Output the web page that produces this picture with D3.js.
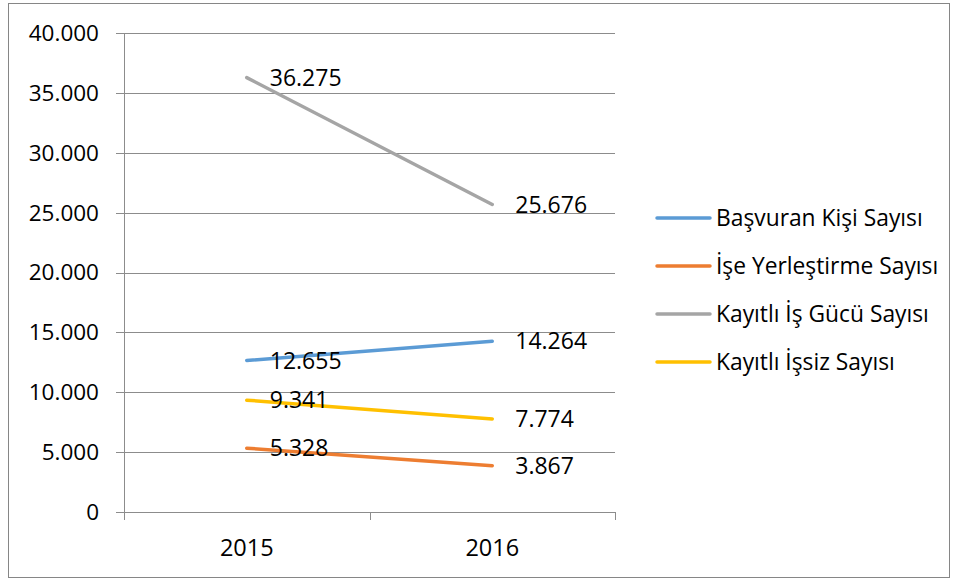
<!DOCTYPE html>
<html>
<head>
<meta charset="utf-8">
<script src="https://cdnjs.cloudflare.com/ajax/libs/d3/7.8.5/d3.min.js"></script>
<style>
  body { margin: 0; background: #fff; }
  svg text { font-family: "Open Sans", "Noto Sans", sans-serif; fill: #000; }
</style>
</head>
<body>
<div id="chart"></div>
<script>
// data
const years = ["2015", "2016"];
const seriesNames = ["Başvuran Kişi Sayısı", "İşe Yerleştirme Sayısı", "Kayıtlı İş Gücü Sayısı", "Kayıtlı İşsiz Sayısı"];
const basvuran = [12655, 14264];
const yerlestirme = [5328, 3867];
const isGucu = [36275, 25676];
const issiz = [9341, 7774];
const yTicks = [0, 5000, 10000, 15000, 20000, 25000, 30000, 35000, 40000];
const colors = ["#5B9BD5", "#ED7D31", "#A5A5A5", "#FFC000"];

const allSeries = [basvuran, yerlestirme, isGucu, issiz].map((v, i) => ({
  name: seriesNames[i], values: v, color: colors[i]
}));

const width = 957, height = 579;
const margin = {left: 124, right: 342, top: 33, bottom: 67};

var svg = d3.select("#chart").append("svg")
  .attr("width", width)
  .attr("height", height);

// outer border
svg.append("rect")
  .attr("x", 8.5).attr("y", 3.5)
  .attr("width", 941).attr("height", 574)
  .attr("fill", "none").attr("stroke", "#868686").attr("stroke-width", 1);

var x = d3.scaleBand()
  .domain(years)
  .range([margin.left, width - margin.right]);

var y = d3.scaleLinear()
  .domain([0, 40000])
  .range([height - margin.bottom, margin.top]);

var fmt = d3.formatLocale({decimal: ",", thousands: ".", grouping: [3], currency: ["", ""]}).format(",");

// gridlines
svg.append("g").selectAll("line").data(yTicks).enter().append("line")
  .attr("x1", margin.left - 8).attr("x2", width - margin.right)
  .attr("y1", d => Math.round(y(d)) + 0.5).attr("y2", d => Math.round(y(d)) + 0.5)
  .attr("stroke", "#8c8c8c").attr("stroke-width", 1);

// y axis line
svg.append("line")
  .attr("x1", margin.left + 0.5).attr("x2", margin.left + 0.5)
  .attr("y1", y(40000)).attr("y2", Math.round(y(0)))
  .attr("stroke", "#8c8c8c");

// y tick labels
svg.append("g").selectAll("text").data(yTicks).enter().append("text")
  .attr("x", 99).attr("y", d => y(d))
  .attr("dy", "0.35em")
  .attr("text-anchor", "end")
  .style("font-size", "22.5px")
  .text(d => fmt(d));

// x axis ticks
var xTickPos = [margin.left, margin.left + x.bandwidth(), width - margin.right];
svg.append("g").selectAll("line").data(xTickPos).enter().append("line")
  .attr("x1", d => Math.round(d) + 0.5).attr("x2", d => Math.round(d) + 0.5)
  .attr("y1", Math.round(y(0))).attr("y2", Math.round(y(0)) + 8)
  .attr("stroke", "#8c8c8c");

svg.append("g").selectAll("text").data(years).enter().append("text")
  .attr("x", d => x(d) + x.bandwidth() / 2)
  .attr("y", 556)
  .attr("text-anchor", "middle")
  .style("font-size", "23.5px")
  .text(d => d);

// lines
var line = d3.line()
  .x((d, i) => x(years[i]) + x.bandwidth() / 2)
  .y(d => y(d));

svg.append("g").selectAll("path").data(allSeries).enter().append("path")
  .attr("d", d => line(d.values))
  .attr("fill", "none")
  .attr("stroke", d => d.color)
  .attr("stroke-width", 3.5)
  .attr("stroke-linecap", "round");

// data labels
allSeries.forEach(s => {
  svg.append("g").selectAll("text").data(s.values).enter().append("text")
    .attr("x", (d, i) => x(years[i]) + x.bandwidth() / 2 + 23)
    .attr("y", d => y(d))
    .attr("dy", "0.35em")
    .style("font-size", "23px")
    .text(d => fmt(d));
});

// legend
var legend = svg.append("g").selectAll("g").data(allSeries).enter().append("g")
  .attr("transform", (d, i) => "translate(657," + (218 + i * 48) + ")");

legend.append("line")
  .attr("x1", 0).attr("x2", 53)
  .attr("stroke", d => d.color)
  .attr("stroke-width", 3.5)
  .attr("stroke-linecap", "round");

legend.append("text")
  .attr("x", 59).attr("dy", "0.35em")
  .style("font-size", "22.8px")
  .text(d => d.name);
</script>
</body>
</html>
